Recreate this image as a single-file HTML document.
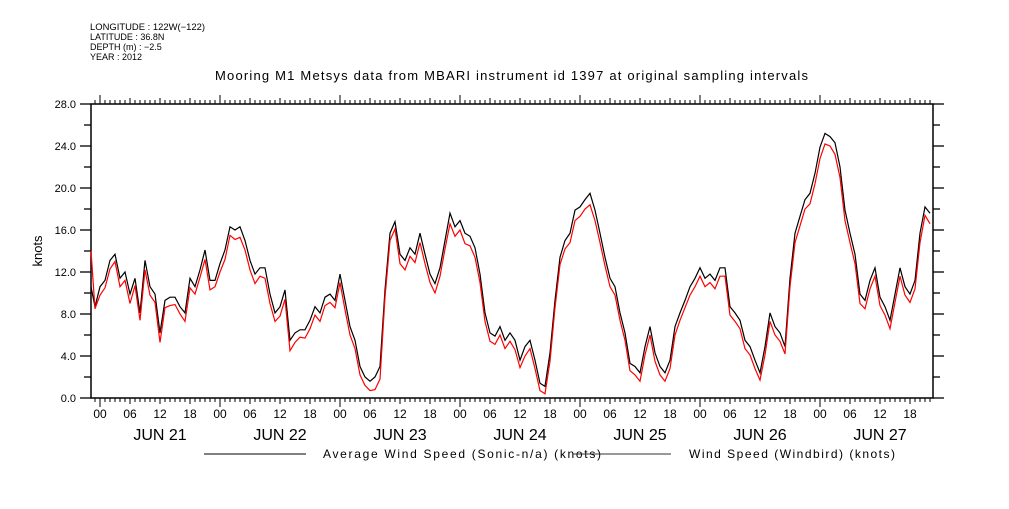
<!DOCTYPE html>
<html><head><meta charset="utf-8"><style>
body{margin:0;background:#fff;}
svg text{font-family:"Liberation Sans",sans-serif;fill:#000;}
</style></head><body>
<svg id="chart" width="1009" height="504" viewBox="0 0 1009 504" xmlns="http://www.w3.org/2000/svg">
<g font-size="9">
<text x="90" y="30" textLength="115" lengthAdjust="spacingAndGlyphs">LONGITUDE : 122W(−122)</text>
<text x="90" y="40">LATITUDE : 36.8N</text>
<text x="90" y="50">DEPTH (m) : −2.5</text>
<text x="90" y="60">YEAR : 2012</text>
</g>
<text x="215" y="80" font-size="13" textLength="593" lengthAdjust="spacing">Mooring M1 Metsys data from MBARI instrument id 1397 at original sampling intervals</text>
<text x="0" y="0" font-size="13" text-anchor="middle" transform="translate(42,251) rotate(-90)">knots</text>
<g id="axes"></g>
<g id="series"></g>
<g font-size="12">
<line x1="204" y1="454" x2="306" y2="454" stroke="#000" stroke-width="1"/>
<text x="323" y="458" textLength="278" lengthAdjust="spacing">Average Wind Speed (Sonic-n/a) (knots)</text>
<line x1="573" y1="454" x2="671" y2="454" stroke="#333" stroke-width="1"/>
<text x="689" y="458" textLength="206" lengthAdjust="spacing">Wind Speed (Windbird) (knots)</text>
</g>
</svg>
<script>
// hours relative to JUN 21 00:00, starting at t=-2
const startHour = -2;
const avgSpeed = [10.6,8.7,10.6,11.2,13.1,13.7,11.4,12.0,9.9,11.4,8.1,13.1,10.6,9.9,6.2,9.3,9.6,9.6,8.7,8.1,11.4,10.6,12.2,14.1,11.2,11.2,12.8,14.1,16.3,16.0,16.3,15.0,13.1,11.8,12.4,12.4,9.9,8.1,8.7,10.3,5.5,6.2,6.5,6.5,7.4,8.7,8.1,9.6,9.9,9.3,11.8,9.3,6.8,5.5,3.0,2.0,1.6,2.0,3.0,10.3,15.7,16.8,13.7,13.1,14.3,13.7,15.7,13.7,11.8,10.9,12.4,15.0,17.6,16.3,16.9,15.7,15.4,14.3,11.8,8.1,6.2,5.9,6.8,5.5,6.2,5.5,3.6,4.9,5.5,3.6,1.4,1.1,4.3,9.3,13.4,15.0,15.7,17.9,18.2,18.9,19.5,17.9,15.7,13.4,11.4,10.6,8.1,6.2,3.3,3.0,2.4,4.9,6.8,4.3,3.0,2.4,3.6,6.8,8.1,9.3,10.6,11.4,12.4,11.4,11.8,11.2,12.4,12.4,8.7,8.1,7.4,5.5,4.9,3.6,2.4,4.9,8.1,6.8,6.2,4.9,11.4,15.7,17.3,18.9,19.5,21.4,23.9,25.2,24.9,24.3,22.0,17.9,15.7,13.7,9.9,9.3,11.2,12.4,9.6,8.7,7.4,9.9,12.4,10.6,9.9,11.2,15.7,18.2,17.6];
const windbird = [14.0,8.5,9.8,10.5,12.3,13.0,10.6,11.2,9.0,10.7,7.4,12.2,9.8,9.1,5.3,8.6,8.8,8.9,8.0,7.3,10.5,9.9,11.5,13.2,10.3,10.6,12.0,13.2,15.5,15.1,15.3,14.1,12.2,10.9,11.6,11.4,9.0,7.3,7.8,9.4,4.5,5.3,5.8,5.7,6.6,7.9,7.3,8.8,9.1,8.6,11.0,8.4,6.0,4.7,2.2,1.2,0.7,0.8,1.8,9.6,15.0,16.1,12.8,12.2,13.5,12.9,14.8,12.8,11.0,10.0,11.6,14.2,16.6,15.4,16.0,14.7,14.5,13.4,11.0,7.3,5.4,5.1,6.0,4.7,5.4,4.6,2.9,4.0,4.7,2.8,0.7,0.4,3.5,8.6,12.7,14.2,14.8,16.9,17.3,18.0,18.4,16.9,14.8,12.6,10.6,9.8,7.4,5.5,2.6,2.2,1.6,4.1,6.0,3.5,2.2,1.6,2.8,6.0,7.4,8.6,9.8,10.6,11.6,10.6,11.0,10.4,11.6,11.6,7.9,7.3,6.6,4.7,4.1,2.8,1.7,4.1,7.3,6.0,5.4,4.2,10.6,14.8,16.4,18.0,18.5,20.4,22.8,24.2,24.0,23.2,21.0,16.9,14.8,12.8,9.0,8.5,10.4,11.6,8.8,7.9,6.6,9.1,11.6,9.8,9.1,10.4,14.8,17.4,16.6];
const yTicks = [0,4,8,12,16,20,24,28];
const yTickLabels = ["0.0","4.0","8.0","12.0","16.0","20.0","24.0","28.0"];
const dayLabels = ["JUN 21","JUN 22","JUN 23","JUN 24","JUN 25","JUN 26","JUN 27"];
const hourLabels = ["00","06","12","18"];

const NS="http://www.w3.org/2000/svg";
const L=91,R=933,T=104,B=398;
const x=h=>100+5*h;
const y=v=>B-(v/28)*(B-T);
const axes=document.getElementById('axes');
const series=document.getElementById('series');
function mk(tag,attrs,parent){const e=document.createElementNS(NS,tag);for(const k in attrs)e.setAttribute(k,attrs[k]);parent.appendChild(e);return e;}

const frame=mk('rect',{x:L,y:T,width:R-L,height:B-T,fill:'none',stroke:'#000','stroke-width':1.5},axes);



for(let v=0;v<=28;v+=2){
  const major=v%4===0;
  const t1=mk('line',{x1:major?80:84,x2:L,y1:y(v),y2:y(v),stroke:'#000','stroke-width':1.3},axes);
  
  
  const t2=mk('line',{x1:R,x2:major?944:940,y1:y(v),y2:y(v),stroke:'#000','stroke-width':1.3},axes);
  
  
}
yTicks.forEach((v,i)=>{
  const t=mk('text',{x:76,y:y(v)+4,'font-size':11,'text-anchor':'end'},axes);
  t.textContent=yTickLabels[i];
  
  
});
for(let h=-1;h<=166;h++){
  const xx=x(h);if(xx<L||xx>R)continue;
  const len=h%24===0?9:(h%6===0?6:4);
  const b=mk('line',{x1:xx,x2:xx,y1:B,y2:B+len,stroke:'#000','stroke-width':1},axes);
  
  
  const tp=mk('line',{x1:xx,x2:xx,y1:T,y2:T-len,stroke:'#000','stroke-width':1},axes);
  
  
}
dayLabels.forEach((d,i)=>{
  hourLabels.forEach((hl,j)=>{
    const t=mk('text',{x:x(i*24+j*6),y:418,'font-size':12,'text-anchor':'middle'},axes);
    t.textContent=hl;
    
    
  });
  const t=mk('text',{x:x(i*24+12),y:440,'font-size':16,'text-anchor':'middle'},axes);
  t.textContent=d;
  
  
});
function pts(arr){return arr.map((v,i)=>{let xx=Math.max(L,x(startHour+i));return xx+','+y(v).toFixed(1);}).join(' ');}
const avgLine=mk('polyline',{points:pts(avgSpeed),fill:'none',stroke:'#000','stroke-width':1.2},series);


const redLine=mk('polyline',{points:pts(windbird),fill:'none',stroke:'#ff0000','stroke-width':1.2},series);


</script>
</body></html>
